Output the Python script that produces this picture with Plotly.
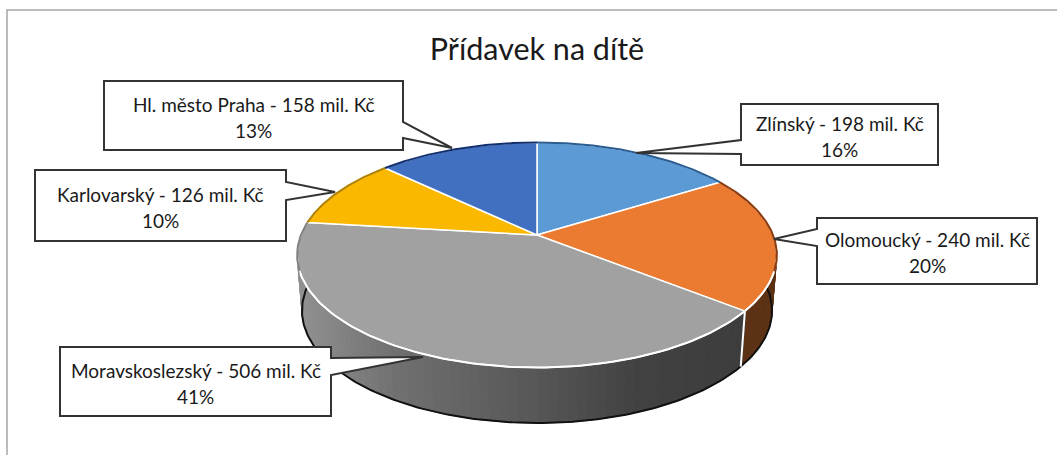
import numpy as np
import plotly.graph_objects as go

regions = ["Zlínský", "Olomoucký", "Moravskoslezský", "Karlovarský", "Hl. město Praha"]
values = [198, 240, 506, 126, 158]
colors = ["#5B9AD5", "#EA7B30", "#A1A1A1", "#FAB900", "#4170C0"]
rim_colors = ["#2A5C90", "#8A3A10", "#808080", "#B08000", "#12306E"]
title = "Přídavek na dítě"

# callout boxes in pixels: left, right, top, bottom, pointer tip, pointer base y's
callouts = {
    "Zlínský": (741, 938, 104, 165, 636, 153, 140, 154),
    "Olomoucký": (817, 1037, 218, 284, 774, 239, 229, 246),
    "Moravskoslezský": (60, 331, 347, 416, 423, 357, 358, 375),
    "Karlovarský": (35, 286, 170, 241, 335, 192, 182, 200),
    "Hl. město Praha": (104, 403, 81, 150, 452, 148, 122, 138),
}

W, H = 1057, 455
CX, CY = 537, 255
R, RY, APEX = 236, 112.5, 20
K = APEX / RY
DEPTH = 55.5
FONT = "Lato"


def top_xy(theta):
    # perspective projection of the pie disc, theta in degrees clockwise from 12 o'clock
    t = np.radians(theta)
    w = 1 + K * np.cos(t)
    return CX + R * np.sin(t) / w, CY - (RY * np.cos(t) + APEX) / w


def bottom_xy(theta):
    x, y = top_xy(theta)
    return CX + 0.98 * (x - CX), y + DEPTH


def wall_color(x, theta):
    if theta < split_angle:
        return "#5C3114"
    g = np.interp(x, [295, 340, 400, 537, 640, 780], [146, 132, 112, 88, 66, 60])
    g = int(g)
    return f"rgb({g},{g},{g})"


total = sum(values)
shares = [v / total for v in values]
edges = np.concatenate([[0], np.cumsum(shares) * 360])
split_angle = edges[2]

fig = go.Figure()

# side wall, drawn as thin strips so the shading runs across it
for a in np.arange(70, 292, 2):
    t = np.array([a, a + 2])
    xt, yt = top_xy(t)
    xb, yb = bottom_xy(t)
    fig.add_trace(go.Scatter(
        x=[xt[0], xt[1], xb[1], xb[0], xt[0]],
        y=[yt[0], yt[1], yb[1], yb[0], yt[0]],
        mode="lines", fill="toself",
        fillcolor=wall_color(xt[0], a + 1),
        line=dict(color=wall_color(xt[0], a + 1), width=1),
        hoverinfo="skip", showlegend=False,
    ))

# dark lower edge of the wall
arc = np.linspace(80, 285, 200)
xb, yb = bottom_xy(arc)
fig.add_trace(go.Scatter(x=xb, y=yb, mode="lines", line=dict(color="#111111", width=2),
                         hoverinfo="skip", showlegend=False))

# white seam between the orange and grey walls
xs, ys = top_xy(split_angle)
xe, ye = bottom_xy(split_angle)
fig.add_trace(go.Scatter(x=[xs, xe], y=[ys, ye], mode="lines", line=dict(color="white", width=2),
                         hoverinfo="skip", showlegend=False))

# top face
for i, region in enumerate(regions):
    arc = np.linspace(edges[i], edges[i + 1], 120)
    x, y = top_xy(arc)
    fig.add_trace(go.Scatter(
        x=np.concatenate([[CX], x, [CX]]),
        y=np.concatenate([[CY - APEX], y, [CY - APEX]]),
        mode="lines", fill="toself", fillcolor=colors[i],
        line=dict(color="white", width=1.5),
        name=region, hoverinfo="skip", showlegend=False,
    ))

# rim: dark at the back, white where it runs over the wall
for i, region in enumerate(regions):
    arc = np.linspace(edges[i], edges[i + 1], 120)
    x, y = top_xy(arc)
    back = y < 272
    fig.add_trace(go.Scatter(x=x[back], y=y[back], mode="lines",
                             line=dict(color=rim_colors[i], width=2),
                             hoverinfo="skip", showlegend=False))
    fig.add_trace(go.Scatter(x=x[~back], y=y[~back], mode="lines",
                             line=dict(color="white", width=2),
                             hoverinfo="skip", showlegend=False))

shapes = [
    # chart frame, only top and left are in the picture
    dict(type="path", path=f"M 7 {H} L 7 10 L {W} 10", line=dict(color="#A6A6A6", width=1.5),
         xref="x", yref="y", layer="above"),
]
annotations = []
for region, value, share in zip(regions, values, shares):
    left, right, top, bottom, tip_x, tip_y, base1, base2 = callouts[region]
    if tip_x > right:
        path = (f"M {left} {top} L {right} {top} L {right} {base1} L {tip_x} {tip_y} "
                f"L {right} {base2} L {right} {bottom} L {left} {bottom} Z")
    else:
        path = (f"M {left} {top} L {right} {top} L {right} {bottom} L {left} {bottom} "
                f"L {left} {base2} L {tip_x} {tip_y} L {left} {base1} Z")
    shapes.append(dict(type="path", path=path, fillcolor="white",
                       line=dict(color="#333333", width=2),
                       xref="x", yref="y", layer="above"))
    mid = (left + right) / 2
    for text, dy in [(f"{region} - {value} mil. Kč", -11.5), (f"{round(share * 100)}%", 14.5)]:
        annotations.append(dict(x=mid, y=(top + bottom) / 2 + dy, text=text, xref="x", yref="y",
                                showarrow=False, font=dict(family=FONT, size=19, color="#1A1A1A")))

fig.update_layout(
    width=W, height=H,
    autosize=False,
    margin=dict(l=0, r=0, t=0, b=0),
    paper_bgcolor="white", plot_bgcolor="white",
    title=dict(text=title, x=CX / W, xanchor="center", y=1 - 49 / H, yanchor="middle",
               font=dict(family=FONT, size=30.5, color="#1A1A1A")),
    xaxis=dict(range=[0, W], visible=False, fixedrange=True),
    yaxis=dict(range=[H, 0], visible=False, fixedrange=True),
    shapes=shapes,
    annotations=annotations,
)

# plotly's page keeps the browser's default body margin, drop it
fig.write_html("out.html", config=dict(displayModeBar=False),
               post_script="document.body.style.margin='0';")
